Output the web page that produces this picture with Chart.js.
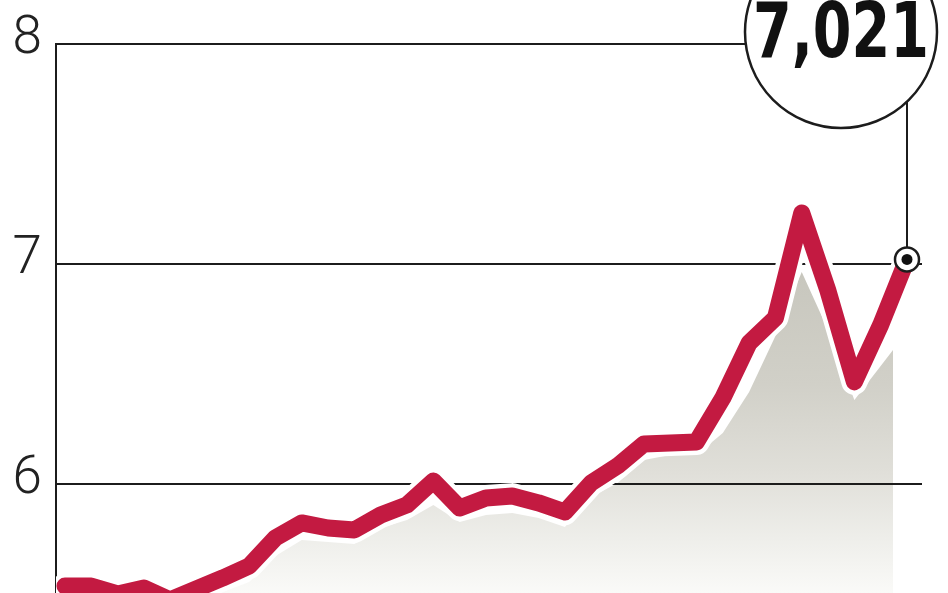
<!DOCTYPE html>
<html>
<head>
<meta charset="utf-8">
<script src="https://cdn.jsdelivr.net/npm/chart.js@4.4.1/dist/chart.umd.min.js"></script>
<style>
  html, body { margin: 0; padding: 0; background: #fff; }
  #wrap { width: 948px; height: 593px; }
</style>
</head>
<body>
<div id="wrap"><canvas id="chart"></canvas></div>
<script>
const yTicks = [6, 7, 8];

const lineValues = [
  5.536, 5.536, 5.500, 5.527, 5.473, 5.523, 5.573, 5.627, 5.755, 5.823,
  5.800, 5.791, 5.859, 5.905, 6.014, 5.891, 5.936, 5.945, 5.914, 5.873,
  6.005, 6.082, 6.182, 6.186, 6.191, 6.391, 6.641, 6.755, 7.232, 6.877,
  6.464, 6.723, 7.021
];

const shadePositions = [
  0, 1, 2, 3, 4, 5, 6, 7, 8, 9,
  10, 11, 12, 13, 14, 15, 16, 17, 18, 19,
  20, 21, 22, 23, 24, 25, 26, 27, 28, 29,
  30, 31, 31.47
];
const shadeValues = [
  5.473, 5.473, 5.445, 5.464, 5.418, 5.464, 5.509, 5.555, 5.673, 5.745,
  5.736, 5.727, 5.800, 5.836, 5.905, 5.827, 5.859, 5.868, 5.845, 5.805,
  5.941, 6.005, 6.109, 6.132, 6.132, 6.232, 6.418, 6.673, 6.964, 6.700,
  6.382, 6.536, 6.609
];

const lastLabel = "7,021";

const RED = "#c31a41";
const INK = "#1c1c1c";

function shadeFill(context) {
  const area = context.chart.chartArea;
  if (!area) return "#d0cfc7";
  const g = context.chart.ctx.createLinearGradient(0, area.top, 0, area.bottom);
  g.addColorStop(0, "#c4c3b9");
  g.addColorStop(0.42, "#c8c7be");
  g.addColorStop(0.62, "#d1d0c8");
  g.addColorStop(0.78, "#e0dfd9");
  g.addColorStop(0.9, "#eeeeea");
  g.addColorStop(1, "#fafaf8");
  return g;
}

const calloutPlugin = {
  id: "callout",
  afterDatasetDraw(chart, args) {
    // grid lines sit above the grey area but under the red line
    if (args.index === 2) {
      chart.scales.y.drawGrid(chart.chartArea);
    }
  },
  afterDraw(chart) {
    const ctx = chart.ctx;
    const meta = chart.getDatasetMeta(0);
    const last = meta.data[meta.data.length - 1];
    const px = last.x;
    const py = last.y;
    const top = chart.scales.y.getPixelForValue(yTicks[yTicks.length - 1]);
    const r = 96;
    const cx = px - 66;
    const cy = top - 12;
    const reach = cy + Math.sqrt(r * r - (px - cx) * (px - cx));

    ctx.save();
    ctx.strokeStyle = INK;
    ctx.lineWidth = 2;
    ctx.beginPath();
    ctx.moveTo(px, reach);
    ctx.lineTo(px, py);
    ctx.stroke();

    ctx.beginPath();
    ctx.arc(cx, cy, r, 0, Math.PI * 2);
    ctx.fillStyle = "#fff";
    ctx.fill();
    ctx.lineWidth = 2.5;
    ctx.stroke();

    ctx.save();
    ctx.font = "bold 77px 'Liberation Sans Narrow', 'DejaVu Sans Condensed', sans-serif";
    const w = ctx.measureText(lastLabel).width;
    ctx.translate(cx, cy + 25);
    ctx.scale(176 / w, 1);
    ctx.textAlign = "center";
    ctx.textBaseline = "alphabetic";
    ctx.fillStyle = "#111";
    ctx.fillText(lastLabel, 0, 0);
    ctx.restore();

    ctx.beginPath();
    ctx.arc(px, py, 12, 0, Math.PI * 2);
    ctx.fillStyle = "#fff";
    ctx.fill();
    ctx.lineWidth = 2.5;
    ctx.strokeStyle = INK;
    ctx.stroke();
    ctx.beginPath();
    ctx.arc(px, py, 5.5, 0, Math.PI * 2);
    ctx.fillStyle = "#111";
    ctx.fill();
    ctx.restore();
  }
};

function buildChart() {
  const linePoints = lineValues.map((v, i) => ({ x: i, y: v }));
  const shadePoints = shadeValues.map((v, i) => ({ x: shadePositions[i], y: v }));

  new Chart(document.getElementById("chart"), {
    type: "line",
    data: {
      datasets: [
        {
          data: linePoints,
          borderColor: RED,
          borderWidth: 17,
          borderJoinStyle: "round",
          borderCapStyle: "round",
          pointRadius: 0,
          tension: 0,
          fill: false,
          order: 0
        },
        {
          data: linePoints,
          borderColor: "#ffffff",
          borderWidth: 26,
          borderJoinStyle: "round",
          borderCapStyle: "round",
          pointRadius: 0,
          tension: 0,
          fill: false,
          order: 1
        },
        {
          data: shadePoints,
          borderWidth: 0,
          borderColor: "rgba(0,0,0,0)",
          backgroundColor: shadeFill,
          pointRadius: 0,
          tension: 0,
          fill: "start",
          order: 2
        }
      ]
    },
    options: {
      responsive: true,
      maintainAspectRatio: false,
      animation: false,
      devicePixelRatio: 1,
      layout: { padding: { top: 44, right: 26, bottom: 0, left: 0 } },
      plugins: {
        legend: { display: false },
        tooltip: { enabled: false }
      },
      scales: {
        x: {
          type: "linear",
          display: false,
          min: -0.34,
          max: 32.57
        },
        y: {
          min: 5.5045,
          max: 8,
          afterBuildTicks: (scale) => {
            scale.ticks = yTicks.map(v => ({ value: v }));
          },
          afterFit: (scale) => {
            scale.width = 56;
            scale.paddingTop = 0;
            scale.paddingBottom = 0;
          },
          border: { display: true, color: INK, width: 2 },
          grid: { color: INK, lineWidth: 2, drawTicks: false },
          ticks: {
            padding: 14,
            labelOffset: -4,
            color: "#222",
            font: { family: "Roboto, 'Open Sans', sans-serif", size: 53, weight: "300" },
            callback: (v) => String(v)
          }
        }
      }
    },
    plugins: [calloutPlugin]
  });
}

buildChart();
</script>
</body>
</html>
